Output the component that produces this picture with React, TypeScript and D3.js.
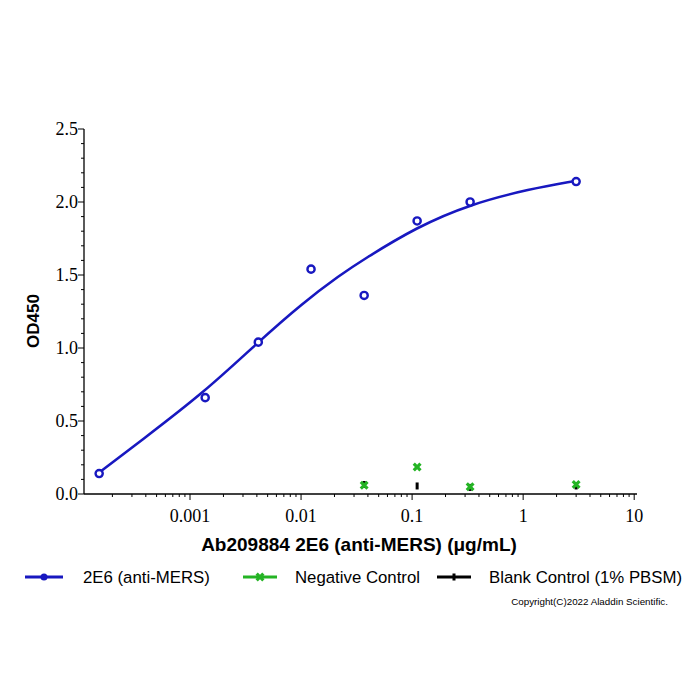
import React, { useRef, useEffect } from 'react';
import * as d3 from 'd3';

// concentrations (µg/mL) and OD450 readings
const mersConc = [0.000152, 0.00137, 0.00412, 0.0123, 0.037, 0.111, 0.333, 3];
const mersOD = [0.14, 0.66, 1.04, 1.54, 1.36, 1.87, 2.0, 2.14];

// fitted curve
const fitConc = [0.00015, 0.000355, 0.00136, 0.0041, 0.0104, 0.0225, 0.0362, 0.111, 0.333, 1.16, 2.94];
const fitOD = [0.144, 0.36, 0.7, 1.04, 1.31, 1.5, 1.605, 1.83, 1.985, 2.09, 2.144];

const ctrlConc = [0.037, 0.111, 0.333, 3];
const negOD = [0.06, 0.185, 0.05, 0.065];
const blankOD = [0.065, 0.055, 0.045, 0.055];

const yTicks = [0, 0.5, 1.0, 1.5, 2.0, 2.5];
const xTicks = [0.001, 0.01, 0.1, 1, 10];
const xTickLabels = ['0.001', '0.01', '0.1', '1', '10'];

const BLUE = '#1818c0';
const GREEN = '#24b424';

const App = () => {
  const ref = useRef<SVGSVGElement | null>(null);

  useEffect(() => {
    if (!ref.current) return;
    const svg = d3.select(ref.current);
    svg.selectAll('*').remove();

    const x = d3.scaleLog().domain([0.000111, 10.6]).range([84, 637]);
    const y = d3.scaleLinear().domain([0, 2.5]).range([494, 129]);
    const serif = '"Liberation Serif", "Times New Roman", serif';
    const sans = '"Liberation Sans", Arial, sans-serif';

    // Y axis
    const gy = svg.append('g');
    gy.append('line').attr('x1', 84).attr('x2', 84).attr('y1', y(2.5)).attr('y2', y(0))
      .attr('stroke', '#000').attr('stroke-width', 1.3);
    d3.range(0, 2.501, 0.1).forEach(v => {
      const major = Math.abs(v * 2 - Math.round(v * 2)) < 1e-6;
      gy.append('line').attr('x1', 84).attr('x2', 84 - (major ? 6 : 3))
        .attr('y1', y(v)).attr('y2', y(v)).attr('stroke', '#000').attr('stroke-width', 1);
    });
    gy.selectAll('text.yt').data(yTicks).enter().append('text')
      .attr('x', 78).attr('y', d => y(d)).attr('dy', '0.35em')
      .attr('text-anchor', 'end').attr('font-family', serif).attr('font-size', 18)
      .text(d => d.toFixed(1));

    // X axis
    const gx = svg.append('g');
    gx.append('line').attr('x1', 84).attr('x2', 637).attr('y1', 494).attr('y2', 494)
      .attr('stroke', '#000').attr('stroke-width', 1.3);
    const minor: number[] = [];
    [-4, -3, -2, -1, 0, 1].forEach(e => {
      for (let m = 2; m <= 9; m++) {
        const v = m * Math.pow(10, e);
        if (v >= x.domain()[0] && v <= x.domain()[1]) minor.push(v);
      }
    });
    minor.forEach(v => {
      gx.append('line').attr('x1', x(v)).attr('x2', x(v)).attr('y1', 494).attr('y2', 497)
        .attr('stroke', '#000').attr('stroke-width', 1);
    });
    xTicks.forEach((v, i) => {
      gx.append('line').attr('x1', x(v)).attr('x2', x(v)).attr('y1', 494).attr('y2', 500)
        .attr('stroke', '#000').attr('stroke-width', 1);
      gx.append('text').attr('x', x(v)).attr('y', 522).attr('text-anchor', 'middle')
        .attr('font-family', serif).attr('font-size', 18).text(xTickLabels[i]);
    });

    // axis titles
    svg.append('text').attr('x', 359).attr('y', 551).attr('text-anchor', 'middle')
      .attr('font-family', sans).attr('font-weight', 'bold').attr('font-size', 19)
      .text('Ab209884 2E6 (anti-MERS) (μg/mL)');
    svg.append('text').attr('transform', 'translate(39,321) rotate(-90)')
      .attr('text-anchor', 'middle').attr('font-family', sans).attr('font-weight', 'bold')
      .attr('font-size', 17).text('OD450');

    // fitted curve
    const fit = fitConc.map((c, i) => [c, fitOD[i]] as [number, number]);
    const line = d3.line<[number, number]>()
      .x(d => x(d[0])).y(d => y(d[1])).curve(d3.curveBasis);
    svg.append('path').datum(fit).attr('d', line).attr('fill', 'none')
      .attr('stroke', BLUE).attr('stroke-width', 2.6);

    // blue points
    svg.selectAll('circle.m').data(mersConc).enter().append('circle')
      .attr('cx', d => x(d)).attr('cy', (d, i) => y(mersOD[i])).attr('r', 3.6)
      .attr('fill', '#fff').attr('stroke', BLUE).attr('stroke-width', 2.4);

    // blank control (black bars)
    svg.selectAll('rect.b').data(ctrlConc).enter().append('rect')
      .attr('x', d => x(d) - 1.5).attr('y', (d, i) => y(blankOD[i]) - 3.5)
      .attr('width', 3).attr('height', 7).attr('fill', '#000');

    // negative control (green x)
    const cross = d3.symbol().type(d3.symbolCross).size(50);
    svg.selectAll('path.n').data(ctrlConc).enter().append('path')
      .attr('d', cross)
      .attr('transform', (d, i) => `translate(${x(d)},${y(negOD[i])}) rotate(45)`)
      .attr('fill', GREEN);

    // legend
    const lg = svg.append('g');
    const ly = 577;
    const fs = 16.8;
    lg.append('line').attr('x1', 25).attr('x2', 63).attr('y1', ly).attr('y2', ly)
      .attr('stroke', BLUE).attr('stroke-width', 3);
    lg.append('circle').attr('cx', 44).attr('cy', ly).attr('r', 3.5).attr('fill', BLUE);
    lg.append('text').attr('x', 83).attr('y', ly).attr('dy', '0.35em')
      .attr('font-family', sans).attr('font-size', fs).text('2E6 (anti-MERS)');

    lg.append('line').attr('x1', 243).attr('x2', 277).attr('y1', ly).attr('y2', ly)
      .attr('stroke', GREEN).attr('stroke-width', 3);
    lg.append('path').attr('d', cross).attr('transform', `translate(260,${ly}) rotate(45)`)
      .attr('fill', GREEN);
    lg.append('text').attr('x', 295).attr('y', ly).attr('dy', '0.35em')
      .attr('font-family', sans).attr('font-size', fs).text('Negative Control');

    lg.append('line').attr('x1', 437).attr('x2', 471).attr('y1', ly).attr('y2', ly)
      .attr('stroke', '#000').attr('stroke-width', 3);
    lg.append('rect').attr('x', 452.5).attr('y', ly - 3.5).attr('width', 3).attr('height', 7)
      .attr('fill', '#000');
    lg.append('text').attr('x', 489).attr('y', ly).attr('dy', '0.35em')
      .attr('font-family', sans).attr('font-size', fs).text('Blank Control (1% PBSM)');

    svg.append('text').attr('x', 668).attr('y', 605).attr('text-anchor', 'end')
      .attr('font-family', sans).attr('font-size', 9.8).text('Copyright(C)2022 Aladdin Scientific.');
  }, []);

  return (
    <svg ref={ref} width={700} height={700}
      style={{ position: 'absolute', left: 0, top: 0, background: '#fff' }} />
  );
};

export default App;
